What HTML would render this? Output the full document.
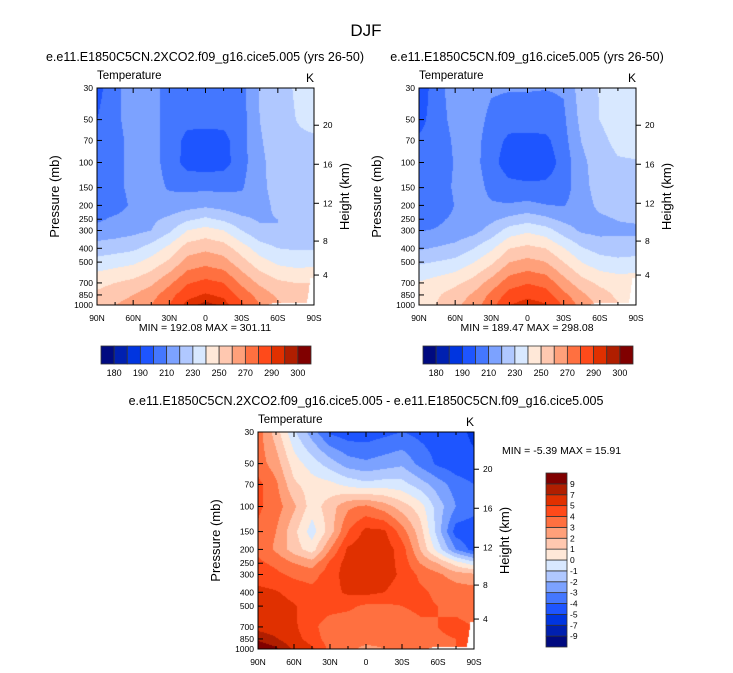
<!DOCTYPE html>
<html><head><meta charset="utf-8">
<style>
body{margin:0;background:#fff;}
#wrap{position:relative;width:733px;height:673px;overflow:hidden;font-family:"Liberation Sans",sans-serif;}
canvas{position:absolute;}
svg{position:absolute;left:0;top:0;}
</style></head>
<body>
<div id="wrap">
<canvas id="c1" width="217" height="217" style="left:97px;top:88px"></canvas>
<canvas id="c2" width="217" height="217" style="left:419px;top:88px"></canvas>
<canvas id="c3" width="216" height="217" style="left:258px;top:432px"></canvas>
<svg id="s" width="733" height="673"></svg>
</div>
<script>
const lats=[90,75,60,45,30,15,0,-15,-30,-45,-60,-75,-90];
const levels=[30,50,70,100,150,200,250,300,400,500,700,850,1000];
const expT=[
[196,208,214,213,207,206,206,206,207,221,226,231,232],
[200,208,214,214,206,203,203,203,206,220,226,230,232],
[206,207,213,214,206,197,196,197,206,219,225,229,229],
[206,207,213,214,206,196,195,196,206,218,224,226,226],
[206,207,213,214,209,208,208,208,209,218,223,224,224],
[205,205,212,214,214,216,218,216,214,217,222,222,222],
[208,212,215,218,222,228,232,228,222,219,220,221,221],
[214,215,217,220,228,240,244,240,230,222,220,220,220],
[224,226,228,234,243,255,258,255,245,235,230,229,229],
[234,236,238,244,252,264,267,264,254,244,238,236,237],
[247,250,253,258,268,279,283,280,268,258,252,250,250],
[252,256,260,266,276,287,291,288,276,266,258,252,250],
[254,260,264,270,280,293,297,294,282,270,262,255,250]];
const diffT=[
[3.5,1.5,-0.8,-2.5,-4.2,-4.6,-4.6,-4.3,-4.0,-4.3,-4.5,-4.7,-5.2],
[3.5,2.5,0.5,-0.5,-1.5,-2.5,-2.8,-2.5,-2.2,-3.3,-4.2,-4.6,-4.8],
[4.3,3.2,1.2,0.5,0.3,-0.3,-0.7,-0.5,-0.6,-1.5,-2.5,-3.5,-4.0],
[4.2,3.5,2.2,0.5,1.5,2.8,3.2,2.5,1.5,0.5,-1.5,-3.0,-3.5],
[3.8,3.0,1.3,-0.5,1.5,4.0,5.3,5.2,3.5,1.5,-1.5,-4.5,-4.8],
[3.8,2.8,1.5,0.5,3.0,5.2,5.6,5.6,4.5,2.0,-0.5,-3.0,-4.5],
[4.2,3.8,3.0,2.5,4.2,5.5,5.8,5.6,4.6,3.0,2.0,0.5,-0.5],
[4.5,4.2,3.8,3.6,4.5,5.5,5.8,5.5,4.8,3.8,3.2,2.5,2.2],
[5.3,5.1,4.6,4.3,4.6,5.2,5.3,5.0,4.5,4.2,3.8,3.6,3.5],
[5.6,5.5,5.1,4.4,4.3,4.2,3.8,3.8,4.0,4.2,4.0,3.8,3.6],
[6.2,5.8,5.2,4.2,3.6,3.4,3.5,3.6,3.5,3.8,4.0,4.2,4.0],
[8.5,7.2,5.5,4.4,3.6,3.2,3.3,3.2,3.3,3.6,3.9,4.0,4.0],
[11.0,9.5,6.5,5.2,3.7,3.2,2.8,3.0,3.3,3.7,4.0,4.0,4.0]];
const ctrlT=expT.map((r,j)=>r.map((v,i)=>v-diffT[j][i]));
const surfLats=[-90,-87,-84,-55,-50,90];
const surfP=[640,650,975,975,1013,1013];
const tLevels=[180,185,190,200,210,220,230,240,250,260,270,280,290,295,300];
const tLabels=["180","","190","","210","","230","","250","","270","","290","","300"];
const dLevels=[-9,-7,-5,-4,-3,-2,-1,0,1,2,3,4,5,7,9];
const dLabels=["-9","-7","-5","-4","-3","-2","-1","0","1","2","3","4","5","7","9"];
const xTicks=[90,60,30,0,-30,-60,-90];
const xTickLabels=["90N","60N","30N","0","30S","60S","90S"];
const hTicks=[4,8,12,16,20];
const colors=["#000a80","#0020b0","#0035e0","#1e55ff","#4477ff","#7ca2ff","#b0c8ff","#d8e8ff","#ffe8d8","#ffc8b0","#ffa07a","#ff7040","#ff4a1a","#e03000","#b01e00","#800000"];

const L0=Math.log10(30),L1=Math.log10(1000);
function interp1(xs,ys,x){for(let i=0;i<xs.length-1;i++){if(x>=xs[i]&&x<=xs[i+1]){const t=(x-xs[i])/(xs[i+1]-xs[i]);return ys[i]+t*(ys[i+1]-ys[i]);}}return ys[ys.length-1];}
function field(g,lat,p){
  let i=Math.min(11,Math.max(0,Math.floor((90-lat)/15)));let t=(lats[i]-lat)/15;
  const lp=Math.log10(p);let j=0;
  for(j=0;j<levels.length-2;j++){if(lp<=Math.log10(levels[j+1]))break;}
  let u=(lp-Math.log10(levels[j]))/(Math.log10(levels[j+1])-Math.log10(levels[j]));
  u=Math.max(0,Math.min(1,u));
  const a=g[j][i]*(1-t)+g[j][i+1]*t, b=g[j+1][i]*(1-t)+g[j+1][i+1]*t;
  return a*(1-u)+b*u;
}
function bin(v,lv){let k=0;while(k<lv.length&&v>=lv[k])k++;return k;}
function hex(c){return [parseInt(c.substr(1,2),16),parseInt(c.substr(3,2),16),parseInt(c.substr(5,2),16)];}
const rgb=colors.map(hex);
function drawField(id,g,lv){
  const cv=document.getElementById(id),ctx=cv.getContext('2d');const w=cv.width,h=cv.height;
  const im=ctx.createImageData(w,h);
  for(let y=0;y<h;y++){const p=Math.pow(10,L0+(y+0.5)/h*(L1-L0));
    for(let x=0;x<w;x++){const lat=90-180*(x+0.5)/w;const o=(y*w+x)*4;
      let c=[255,255,255];
      if(p<=interp1(surfLats,surfP,lat)){c=rgb[bin(field(g,lat,p),lv)];}
      im.data[o]=c[0];im.data[o+1]=c[1];im.data[o+2]=c[2];im.data[o+3]=255;}}
  ctx.putImageData(im,0,0);
}
drawField('c1',expT,tLevels);drawField('c2',ctrlT,tLevels);drawField('c3',diffT,dLevels);

const S=document.getElementById('s');const NS="http://www.w3.org/2000/svg";
function mk(tag,at,txt){const e=document.createElementNS(NS,tag);for(const k in at)e.setAttribute(k,at[k]);if(txt!==undefined)e.textContent=txt;S.appendChild(e);return e;}
function stdP(z){return z<=11?1013.25*Math.pow(1-0.0065*z*1000/288.15,5.2559):226.32*Math.exp(-(z-11)/6.3416);}
function axes(x0,y0,w,h,pre){
  const yOf=p=>y0+(Math.log10(p)-L0)/(L1-L0)*h;const xOf=l=>x0+(90-l)/180*w;
  let e=mk('rect',{x:x0,y:y0,width:w,height:h,fill:'none',stroke:'#000','stroke-width':1});
  
  for(let l=90;l>=-90;l-=15){const x=xOf(l);const major=(l%30===0);const len=major?5:3;
    mk('line',{x1:x,y1:y0+h,x2:x,y2:y0+h-len,stroke:'#000'});mk('line',{x1:x,y1:y0,x2:x,y2:y0+len,stroke:'#000'});}
  xTicks.forEach((l,k)=>{e=mk('text',{x:xOf(l),y:y0+h+16,'font-size':8.5,'text-anchor':'middle'},xTickLabels[k]);
    });
  levels.forEach(p=>{const y=yOf(p);mk('line',{x1:x0,y1:y,x2:x0+5,y2:y,stroke:'#000'});
    e=mk('text',{x:x0-4,y:y+3,'font-size':8.5,'text-anchor':'end'},String(p));
    });
  hTicks.forEach(z=>{const y=yOf(stdP(z));mk('line',{x1:x0+w,y1:y,x2:x0+w+5,y2:y,stroke:'#000'});
    e=mk('text',{x:x0+w+9,y:y+3,'font-size':8.5},String(z));
    });
  e=mk('text',{x:x0-38,y:y0+h/2,'font-size':13,'text-anchor':'middle',transform:`rotate(-90 ${x0-38} ${y0+h/2})`},'Pressure (mb)');
  
  e=mk('text',{x:x0+w+35,y:y0+h/2,'font-size':13,'text-anchor':'middle',transform:`rotate(-90 ${x0+w+35} ${y0+h/2})`},'Height (km)');
  
  e=mk('text',{x:x0,y:y0-9,'font-size':11.5},'Temperature');
  
  e=mk('text',{x:x0+w,y:y0-6,'font-size':12,'text-anchor':'end'},'K');
  
}
axes(97,88,217,217,'exp');axes(419,88,217,217,'ctrl');axes(258,432,216,217,'diff');

function hbar(x0,y0,w,h,pre){const bw=w/16;
  colors.forEach((c,k)=>{const e=mk('rect',{x:x0+k*bw,y:y0,width:bw,height:h,fill:c,stroke:'#333','stroke-width':0.8});
    });
  tLabels.forEach((t,k)=>{if(!t)return;const e=mk('text',{x:x0+(k+1)*bw,y:y0+h+12,'font-size':9,'text-anchor':'middle'},t);
    });}
hbar(101,346,210,18,'exp');hbar(423,346,210,18,'ctrl');
(function(){const x0=546,y0=473,w=21,h=174,bh=h/16;
  colors.forEach((c,k)=>{const e=mk('rect',{x:x0,y:y0+h-(k+1)*bh,width:w,height:bh,fill:c,stroke:'#333','stroke-width':0.8});
    });
  dLabels.forEach((t,k)=>{const e=mk('text',{x:x0+w+3,y:y0+h-(k+1)*bh+3,'font-size':8.5},t);
    });})();

let e;
e=mk('text',{x:366,y:36,'font-size':17,'text-anchor':'middle'},'DJF');
e=mk('text',{x:205,y:61,'font-size':12.5,'text-anchor':'middle'},'e.e11.E1850C5CN.2XCO2.f09_g16.cice5.005 (yrs 26-50)');
e=mk('text',{x:527,y:61,'font-size':12.5,'text-anchor':'middle'},'e.e11.E1850C5CN.f09_g16.cice5.005 (yrs 26-50)');
e=mk('text',{x:366,y:405,'font-size':12.5,'text-anchor':'middle'},'e.e11.E1850C5CN.2XCO2.f09_g16.cice5.005 - e.e11.E1850C5CN.f09_g16.cice5.005');
e=mk('text',{x:205,y:331,'font-size':10.5,'text-anchor':'middle'},'MIN = 192.08  MAX = 301.11');
e=mk('text',{x:527,y:331,'font-size':10.5,'text-anchor':'middle'},'MIN = 189.47  MAX = 298.08');
e=mk('text',{x:502,y:454,'font-size':10.5},'MIN =  -5.39  MAX =  15.91');
</script>
</body></html>
